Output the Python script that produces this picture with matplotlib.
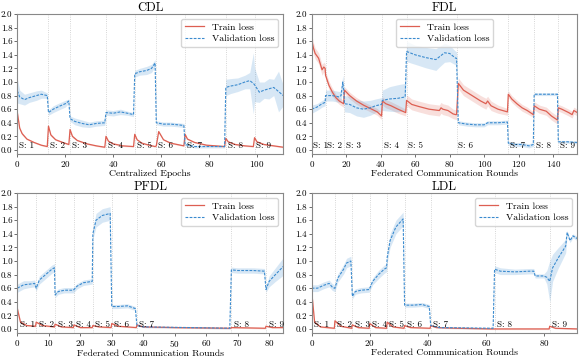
import matplotlib
matplotlib.use("Agg")
import matplotlib.pyplot as plt
import numpy as np

# ── fonts: Computer Modern look ──────────────────────────────────────────────
plt.rcParams["font.family"] = "cmr10"
plt.rcParams["mathtext.fontset"] = "cm"
plt.rcParams["axes.unicode_minus"] = False
plt.rcParams["axes.formatter.use_mathtext"] = True

TRAIN_COLOR = "#dd5f52"
VAL_COLOR = "#3b8bcf"

# ── CDL ───────────────────────────────────────────────────────────────────────
cdl_stages = [0, 13, 22, 37, 49, 58, 70, 87, 99]
cdl_xmax = 111
cdl_train_x = [0, 1, 2, 4, 7, 10, 12.5,
               13, 14, 16, 19, 21.5,
               22, 23, 25, 29, 33, 36.5,
               37, 38, 40, 44, 48.5,
               49, 50, 52, 55, 57.5,
               58, 59, 61, 64, 69.5,
               70, 71, 74, 79, 86.5,
               87, 88, 91, 95, 98.5,
               99, 100, 103, 107, 111]
cdl_train_y = [0.55, 0.32, 0.24, 0.16, 0.11, 0.07, 0.05,
               0.35, 0.22, 0.15, 0.11, 0.08,
               0.30, 0.20, 0.14, 0.09, 0.06, 0.04,
               0.20, 0.13, 0.09, 0.06, 0.05,
               0.23, 0.15, 0.10, 0.07, 0.05,
               0.06, 0.27, 0.15, 0.10, 0.06,
               0.23, 0.16, 0.11, 0.07, 0.05,
               0.17, 0.12, 0.08, 0.06, 0.05,
               0.18, 0.12, 0.08, 0.06, 0.04]
cdl_train_sd = [0.03, 0.02, 0.02, 0.01, 0.01, 0.01, 0.01,
                0.02, 0.02, 0.01, 0.01, 0.01,
                0.02, 0.02, 0.01, 0.01, 0.01, 0.01,
                0.02, 0.01, 0.01, 0.01, 0.01,
                0.02, 0.01, 0.01, 0.01, 0.01,
                0.01, 0.02, 0.01, 0.01, 0.01,
                0.02, 0.01, 0.01, 0.01, 0.01,
                0.02, 0.01, 0.01, 0.01, 0.01,
                0.02, 0.01, 0.01, 0.01, 0.01]
cdl_val_x = [0, 1, 3, 5, 8, 10, 12.5,
             13, 15, 18, 20, 21.5,
             22, 24, 27, 30, 33, 36.5,
             37, 40, 43, 46, 48.5,
             49, 51, 54, 56, 57.5,
             58, 61, 64, 67, 69.5,
             70, 74, 79, 83, 86.5,
             87, 89, 92, 95, 97, 98.5,
             99, 101, 103, 105, 107, 109, 111]
cdl_val_y = [0.87, 0.78, 0.74, 0.77, 0.80, 0.82, 0.80,
             0.55, 0.60, 0.65, 0.68, 0.72,
             0.46, 0.42, 0.39, 0.37, 0.39, 0.40,
             0.55, 0.54, 0.56, 0.54, 0.52,
             1.12, 1.15, 1.17, 1.20, 1.28,
             0.40, 0.38, 0.38, 0.37, 0.36,
             0.08, 0.05, 0.05, 0.05, 0.05,
             0.92, 0.94, 0.96, 1.00, 1.02, 0.98,
             0.96, 0.85, 0.88, 0.90, 0.92, 0.86, 0.80]
cdl_val_sd = [0.18, 0.10, 0.08, 0.07, 0.07, 0.06, 0.04,
              0.04, 0.05, 0.05, 0.05, 0.03,
              0.04, 0.05, 0.05, 0.04, 0.04, 0.04,
              0.04, 0.04, 0.04, 0.03, 0.03,
              0.05, 0.05, 0.06, 0.06, 0.05,
              0.03, 0.03, 0.03, 0.03, 0.03,
              0.02, 0.02, 0.02, 0.02, 0.02,
              0.12, 0.11, 0.10, 0.10, 0.12, 0.45,
              0.25, 0.15, 0.12, 0.15, 0.12, 0.30, 0.15]

# ── FDL ───────────────────────────────────────────────────────────────────────
fdl_stages = [0, 8, 19, 41, 55, 84, 114, 129, 143]
fdl_xmax = 154
fdl_train_x = [0, 1, 2, 4, 6, 7, 7.8,
               8, 10, 12, 14, 16, 18.5,
               19, 22, 26, 30, 34, 38, 40.5,
               41, 43, 46, 50, 54.5,
               55, 58, 62, 68, 74, 75, 76, 79, 82, 83.5,
               84, 85, 88, 93, 98, 101, 102, 104, 108, 113.5,
               114, 116, 119, 122, 125, 128.5,
               129, 132, 136, 139, 142.5,
               143, 145, 149, 151, 152, 154]
fdl_train_y = [1.62, 1.50, 1.42, 1.35, 1.18, 1.22, 1.20,
               1.10, 0.95, 0.85, 0.77, 0.72, 0.68,
               0.88, 0.80, 0.72, 0.66, 0.61, 0.56, 0.50,
               0.72, 0.68, 0.65, 0.60, 0.55,
               0.73, 0.67, 0.64, 0.60, 0.58, 0.62, 0.60, 0.58, 0.53, 0.52,
               0.52, 0.98, 0.88, 0.80, 0.72, 0.68, 0.72, 0.65, 0.60, 0.56,
               0.82, 0.75, 0.68, 0.62, 0.58, 0.52,
               0.65, 0.60, 0.57, 0.50, 0.44,
               0.62, 0.60, 0.55, 0.52, 0.58, 0.55]
fdl_train_sd = [0.08, 0.08, 0.08, 0.08, 0.08, 0.07, 0.07,
                0.06, 0.06, 0.06, 0.05, 0.05, 0.05,
                0.05, 0.05, 0.05, 0.05, 0.05, 0.05, 0.05,
                0.06, 0.06, 0.06, 0.06, 0.05,
                0.08, 0.08, 0.08, 0.08, 0.08, 0.08, 0.08, 0.08, 0.07, 0.07,
                0.07, 0.08, 0.08, 0.08, 0.08, 0.08, 0.07, 0.07, 0.06, 0.05,
                0.05, 0.05, 0.05, 0.05, 0.05, 0.04,
                0.06, 0.06, 0.06, 0.06, 0.06,
                0.05, 0.05, 0.05, 0.05, 0.05, 0.05]
fdl_val_x = [0, 3, 6, 7.8,
             8, 12, 16, 17, 18, 18.5,
             19, 22, 26, 30, 34, 37, 40.5,
             41, 45, 50, 54.2,
             55, 60, 66, 72, 74, 77, 80, 83.5,
             84, 85, 90, 95, 100, 102, 108, 113.5,
             114, 118, 122, 126, 128.5,
             129, 135, 142.5,
             143, 148, 154]
fdl_val_y = [0.60, 0.63, 0.68, 0.70,
             0.80, 0.80, 0.78, 0.80, 1.00, 0.90,
             0.68, 0.67, 0.62, 0.60, 0.62, 0.65, 0.67,
             0.73, 0.75, 0.76, 0.78,
             1.45, 1.40, 1.36, 1.33, 1.37, 1.43, 1.42, 1.35,
             1.35, 0.40, 0.38, 0.37, 0.37, 0.40, 0.40, 0.41,
             0.10, 0.08, 0.08, 0.06, 0.08,
             0.82, 0.82, 0.82,
             0.12, 0.12, 0.11]
fdl_val_sd = [0.06, 0.05, 0.05, 0.05,
              0.08, 0.08, 0.08, 0.08, 0.10, 0.10,
              0.12, 0.12, 0.12, 0.12, 0.11, 0.10, 0.10,
              0.15, 0.18, 0.20, 0.20,
              0.15, 0.14, 0.15, 0.16, 0.15, 0.14, 0.12, 0.10,
              0.10, 0.03, 0.03, 0.03, 0.03, 0.03, 0.03, 0.03,
              0.03, 0.03, 0.03, 0.03, 0.03,
              0.02, 0.02, 0.02,
              0.02, 0.02, 0.02]

# ── PFDL ──────────────────────────────────────────────────────────────────────
pfdl_stages = [0, 6, 12, 18, 24, 30, 38, 68, 79]
pfdl_xmax = 84.5
pfdl_train_x = [0, 1, 3, 5.8, 6, 8, 11.8, 12, 14, 17.8, 18, 20, 23.8, 24, 26, 29.8,
                30, 32, 37.8, 38, 40, 50, 67.8, 68, 78.8, 79, 81, 84.5]
pfdl_train_y = [0.30, 0.10, 0.05, 0.04, 0.10, 0.05, 0.03, 0.07, 0.03, 0.02, 0.06, 0.02,
                0.02, 0.05, 0.03, 0.02, 0.08, 0.04, 0.02, 0.06, 0.03, 0.02, 0.01, 0.02,
                0.01, 0.04, 0.02, 0.02]
pfdl_train_sd = [0.03, 0.02, 0.01, 0.01, 0.01, 0.01, 0.01, 0.01, 0.01, 0.01, 0.01, 0.01,
                 0.01, 0.01, 0.01, 0.01, 0.01, 0.01, 0.01, 0.01, 0.01, 0.01, 0.01, 0.01,
                 0.01, 0.01, 0.01, 0.01]
pfdl_val_x = [0, 2, 4, 5.5, 6, 7, 9, 11, 11.8, 12, 13, 15, 17.8, 18, 19, 21, 23.8,
              24, 25, 27, 29.5, 30, 32, 35, 37.5, 38, 40, 55, 67.5, 68, 70, 75, 78.5,
              79, 80, 82, 84.5]
pfdl_val_y = [0.60, 0.65, 0.66, 0.67, 0.60, 0.72, 0.80, 0.88, 0.90, 0.50, 0.55, 0.57,
              0.57, 0.58, 0.63, 0.68, 0.70, 1.40, 1.60, 1.67, 1.70, 0.33, 0.33, 0.34,
              0.30, 0.05, 0.03, 0.02, 0.01, 0.87, 0.86, 0.86, 0.85, 0.58, 0.70, 0.80,
              0.92]
pfdl_val_sd = [0.06, 0.06, 0.05, 0.05, 0.04, 0.06, 0.06, 0.06, 0.06, 0.04, 0.04, 0.04,
               0.04, 0.04, 0.04, 0.04, 0.04, 0.08, 0.10, 0.10, 0.10, 0.03, 0.03, 0.03,
               0.03, 0.01, 0.01, 0.01, 0.01, 0.04, 0.04, 0.04, 0.04, 0.04, 0.08, 0.10,
               0.13]

# ── LDL ───────────────────────────────────────────────────────────────────────
ldl_stages = [0, 8, 14, 20, 26, 32, 41, 63, 82]
ldl_xmax = 91.5
ldl_train_x = [0, 1, 3, 7.8, 8, 10, 13.8, 14, 16, 19.8, 20, 22, 25.8, 26, 28, 31.8,
               32, 34, 40.8, 41, 43, 50, 62, 81.8, 82, 84, 91.5]
ldl_train_y = [0.55, 0.10, 0.03, 0.01, 0.12, 0.04, 0.01, 0.06, 0.02, 0.01, 0.08, 0.02,
               0.01, 0.10, 0.03, 0.01, 0.05, 0.02, 0.01, 0.05, 0.02, 0.01, 0.00, 0.00,
               0.04, 0.01, 0.00]
ldl_train_sd = [0.03, 0.02, 0.01, 0.01, 0.02, 0.01, 0.01, 0.01, 0.01, 0.01, 0.01, 0.01,
                0.01, 0.02, 0.01, 0.01, 0.01, 0.01, 0.01, 0.01, 0.01, 0.01, 0.01, 0.01,
                0.01, 0.01, 0.01]
ldl_val_x = [0, 2, 4, 6, 7, 7.8, 8, 9, 11, 12, 13.5, 14, 15, 17, 19.8, 20, 21, 23, 25,
             25.8, 26, 27, 29, 31.5, 32, 35, 38, 40.5, 41, 44, 62.5, 63, 65, 70, 75,
             76.5, 77, 80, 81, 82, 83, 85, 86.5, 87.5, 88, 89, 90, 91.5]
ldl_val_y = [0.60, 0.60, 0.64, 0.67, 0.62, 0.60, 0.60, 0.75, 0.88, 0.97, 1.00, 0.48,
             0.55, 0.57, 0.58, 0.60, 0.70, 0.80, 0.88, 0.90, 1.05, 1.30, 1.50, 1.62,
             0.35, 0.35, 0.36, 0.33, 0.05, 0.02, 0.01, 0.88, 0.85, 0.84, 0.85, 0.85,
             0.78, 0.78, 0.76, 0.70, 0.90, 1.05, 1.15, 1.22, 1.42, 1.30, 1.37, 1.33]
ldl_val_sd = [0.05, 0.05, 0.05, 0.05, 0.05, 0.05, 0.05, 0.06, 0.07, 0.07, 0.07, 0.04,
              0.04, 0.04, 0.04, 0.04, 0.05, 0.06, 0.06, 0.06, 0.08, 0.10, 0.10, 0.10,
              0.03, 0.03, 0.03, 0.03, 0.01, 0.01, 0.01, 0.05, 0.05, 0.04, 0.04, 0.04,
              0.03, 0.03, 0.10, 0.30, 0.20, 0.15, 0.12, 0.10, 0.03, 0.03, 0.03, 0.03]

titles = ["CDL", "FDL", "PFDL", "LDL"]
xlabels = ["Centralized Epochs", "Federated Communication Rounds",
           "Federated Communication Rounds", "Federated Communication Rounds"]
xtick_steps = [20, 20, 10, 20]
legend_locs = ["upper right", "upper center", "upper right", "upper right"]


def draw_panel(ax, stages, xmax, tx, ty, tsd, vx, vy, vsd, title, xlabel, step, loc):
    tx, ty, tsd = np.array(tx), np.array(ty), np.array(tsd)
    vx, vy, vsd = np.array(vx), np.array(vy), np.array(vsd)

    # stage separators
    for b in stages[1:]:
        ax.axvline(b, color="#c8c8c8", linestyle=":", linewidth=0.6, zorder=0)

    ax.fill_between(tx, ty - tsd, ty + tsd, color=TRAIN_COLOR, alpha=0.2, linewidth=0)
    ax.fill_between(vx, vy - vsd, vy + vsd, color=VAL_COLOR, alpha=0.2, linewidth=0)
    ax.plot(tx, ty, color=TRAIN_COLOR, linewidth=0.9, label="Train loss")
    ax.plot(vx, vy, color=VAL_COLOR, linewidth=0.8, linestyle=(0, (2.5, 1.2)),
            label="Validation loss")

    # stage labels
    for i, b in enumerate(stages):
        ax.text(b + 0.8, 0.0, f"S: {i + 1}", fontsize=6.5, va="bottom", ha="left")

    ax.set_xlim(0, xmax)
    ax.set_ylim(-0.06, 2.0)
    ax.set_xticks(np.arange(0, xmax, step))
    ax.set_yticks(np.arange(0, 2.01, 0.2))
    ax.set_yticklabels([f"{v:.1f}" for v in np.arange(0, 2.01, 0.2)])
    ax.tick_params(labelsize=6.5, length=2, width=0.6, pad=1.5, color="#555555")
    for s in ax.spines.values():
        s.set_color("#888888")
        s.set_linewidth(0.8)
    ax.set_title(title, fontsize=9, pad=2.5)
    ax.set_xlabel(xlabel, fontsize=7, labelpad=0.5)
    ax.legend(loc=loc, fontsize=7, frameon=True, edgecolor="#cccccc",
              handlelength=2.0, borderpad=0.4, labelspacing=0.3)


fig = plt.figure(figsize=(5.81, 3.57), dpi=100)
ax1 = fig.add_axes([0.0298, 0.5686, 0.4578, 0.392])
ax2 = fig.add_axes([0.5365, 0.5686, 0.4571, 0.392])
ax3 = fig.add_axes([0.0298, 0.0672, 0.4578, 0.392])
ax4 = fig.add_axes([0.5365, 0.0672, 0.4571, 0.392])

panels = [
    (ax1, cdl_stages, cdl_xmax, cdl_train_x, cdl_train_y, cdl_train_sd,
     cdl_val_x, cdl_val_y, cdl_val_sd),
    (ax2, fdl_stages, fdl_xmax, fdl_train_x, fdl_train_y, fdl_train_sd,
     fdl_val_x, fdl_val_y, fdl_val_sd),
    (ax3, pfdl_stages, pfdl_xmax, pfdl_train_x, pfdl_train_y, pfdl_train_sd,
     pfdl_val_x, pfdl_val_y, pfdl_val_sd),
    (ax4, ldl_stages, ldl_xmax, ldl_train_x, ldl_train_y, ldl_train_sd,
     ldl_val_x, ldl_val_y, ldl_val_sd),
]
for i, p in enumerate(panels):
    draw_panel(*p, titles[i], xlabels[i], xtick_steps[i], legend_locs[i])

fig.savefig("out.png", dpi=100)
